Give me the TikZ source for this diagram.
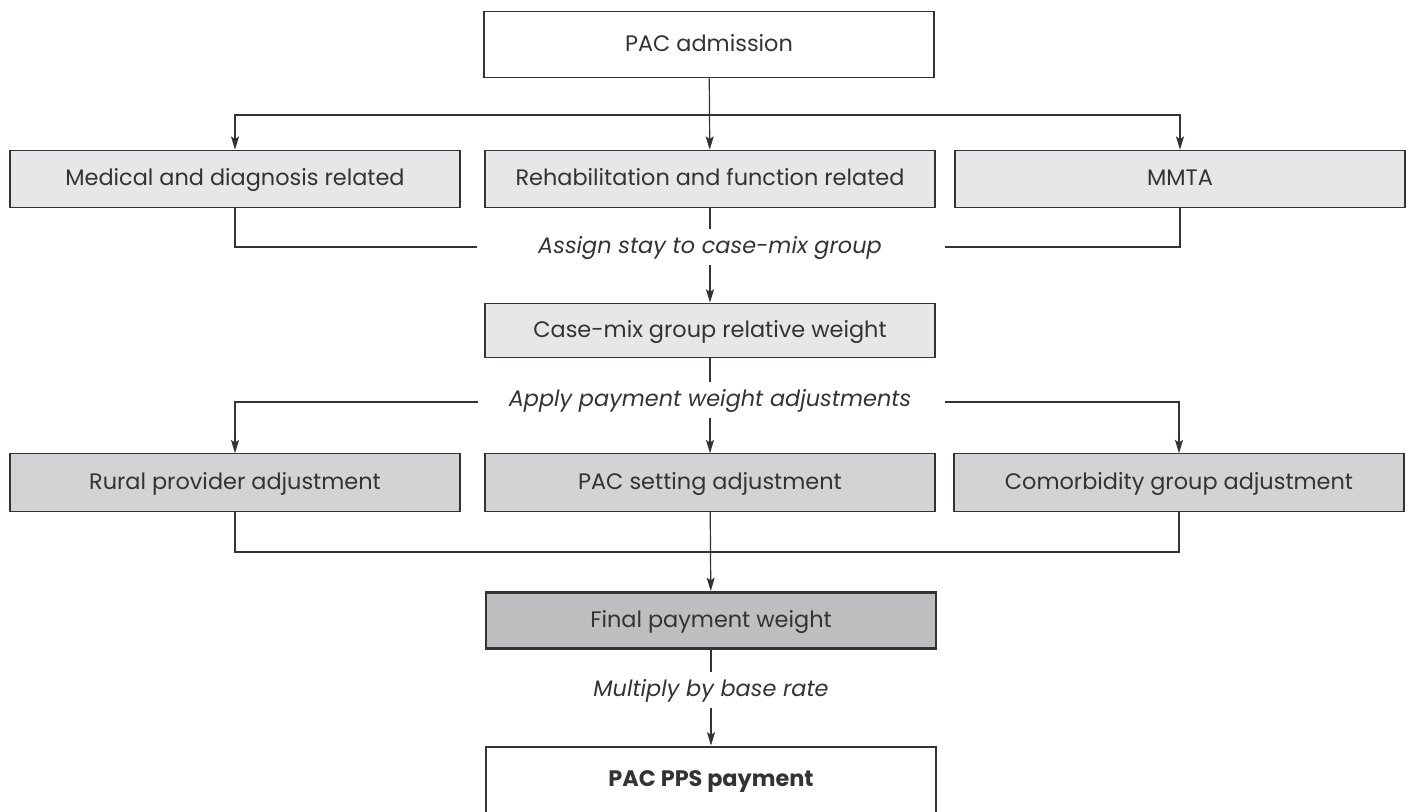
\documentclass[tikz,border=0pt]{standalone}
\usepackage{fontspec}
\setmainfont{Poppins}
\usetikzlibrary{arrows.meta}
\definecolor{ink}{HTML}{333333}
\definecolor{lightfill}{HTML}{E6E7E8}
\definecolor{midfill}{HTML}{D1D3D4}
\definecolor{darkfill}{HTML}{BCBEC0}
\tikzset{
  box/.style = {draw = ink, line width = 0.9pt, text = ink, minimum width = 337.5pt,
    minimum height = 43pt, inner sep = 0pt, text height = 10pt, text depth = 0pt,
    font = \fontsize{16.8}{20}\selectfont},
  step label/.style = {text = ink, inner sep = 0pt, minimum height = 26pt,
    text height = 10pt, text depth = 0pt, font = \fontsize{16.8}{20}\selectfont\itshape},
  flow/.style = {draw = ink, line width = 0.9pt},
  arr/.style = {flow, -{Stealth[length = 10pt, width = 6pt, inset = 2pt]}}
}
\begin{document}
\begin{tikzpicture}[x = 0.75pt, y = -0.75pt]
    \useasboundingbox (0, 0) rectangle (1408, 812);
    \node [box, minimum height = 50pt] (adm) at (709, 44.5) {PAC admission};
    \node [box, fill = lightfill] (med) at (235, 179) {Medical and diagnosis related};
    \node [box, fill = lightfill] (reh) at (710, 179) {Rehabilitation and function related};
    \node [box, fill = lightfill] (mmta) at (1180, 179) {MMTA};
    \node [step label] (assign) at (710, 247) {Assign stay to case-mix group};
    \node [box, fill = lightfill, minimum height = 41pt] (cmg) at (710, 330.5) {Case-mix group relative weight};
    \node [step label] (apply) at (710, 400) {Apply payment weight adjustments};
    \node [box, fill = midfill] (rur) at (235, 482.5) {Rural provider adjustment};
    \node [box, fill = midfill] (set) at (710, 482.5) {PAC setting adjustment};
    \node [box, fill = midfill] (com) at (1179, 482.5) {Comorbidity group adjustment};
    \node [box, fill = darkfill, line width = 2.2pt, minimum height = 42pt] (fin) at (711, 620.5) {Final payment weight};
    \node [step label] (mult) at (711, 690) {Multiply by base rate};
    \node [box, line width = 2.2pt, minimum height = 49.5pt, font = \fontsize{16.8}{20}\selectfont\bfseries] (pps) at (711, 780) {PAC PPS payment};

    \coordinate (split) at (710, 115);
    \coordinate (joinl) at (477, 247);
    \coordinate (joinr) at (945, 247);
    \coordinate (adjl) at (478, 402);
    \coordinate (adjr) at (945, 402);
    \coordinate (merge) at (710, 552);

    \draw [arr] (adm) -- (reh);
    \draw [arr] (split) -| (med);
    \draw [arr] (split) -| (mmta);
    \draw [flow] (med) |- (joinl);
    \draw [flow] (mmta) |- (joinr);
    \draw [flow] (reh) -- (assign);
    \draw [arr] (assign) -- (cmg);
    \draw [flow] (cmg) -- (apply);
    \draw [arr] (apply) -- (set);
    \draw [arr] (adjl) -| (rur);
    \draw [arr] (adjr) -| (com);
    \draw [flow] (rur) |- (merge) -| (com);
    \draw [arr] (set) -- (fin);
    \draw [flow] (fin) -- (mult);
    \draw [arr] (mult) -- (pps);
\end{tikzpicture}
\end{document}
